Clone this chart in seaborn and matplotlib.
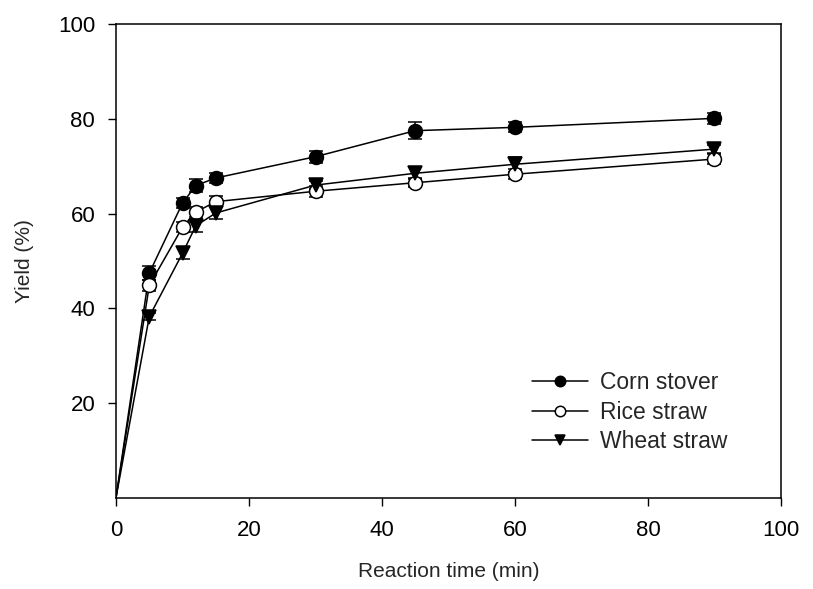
import matplotlib.pyplot as plt
import seaborn as sns
import pandas as pd
from matplotlib.lines import Line2D

# reaction time (min) and yields (%)
time = [0, 5, 10, 12, 15, 30, 45, 60, 90]
corn = [0, 47.4, 62.2, 65.9, 67.5, 72.0, 77.5, 78.2, 80.1]
rice = [0, 44.8, 57.1, 60.3, 62.5, 64.7, 66.5, 68.3, 71.5]
wheat = [0, 38.2, 51.6, 57.4, 60.1, 66.0, 68.5, 70.4, 73.6]
corn_err = [0, 1.5, 1.0, 1.3, 1.1, 1.3, 1.8, 1.05, 1.1]
rice_err = [0, 1.1, 1.0, 1.1, 1.2, 1.2, 1.0, 1.0, 1.1]
wheat_err = [0, 0.8, 1.3, 1.4, 1.2, 0.8, 1.3, 1.6, 0.8]
names = ['Corn stover', 'Rice straw', 'Wheat straw']

sns.set_style('ticks')
plt.rcParams['font.family'] = ['Liberation Sans', 'DejaVu Sans']

df = pd.DataFrame({
    'Reaction time (min)': time * 3,
    'Yield (%)': corn + rice + wheat,
    'Material': [n for n in names for _ in time],
})

fig = plt.figure(figsize=(8.13, 5.89), dpi=100)
ax = fig.add_axes([0.1427, 0.1553, 0.8179, 0.8037])

sns.lineplot(data=df, x='Reaction time (min)', y='Yield (%)', units='Material',
             estimator=None, color='black', linewidth=1.1, ax=ax, legend=False)

styles = [('o', 'black'), ('o', 'white'), ('v', 'black')]
series = [(corn, corn_err), (rice, rice_err), (wheat, wheat_err)]
handles = []
for (m, fc), (vals, errs), name in zip(styles, series, names):
    ax.errorbar(time[1:], vals[1:], yerr=errs[1:], fmt=m, ms=10, mfc=fc,
                mec='black', mew=1.1, ecolor='black', elinewidth=1.1,
                capsize=5, capthick=1.1, zorder=3)
    handles.append(Line2D([], [], color='black', lw=1.1, marker=m, ms=7.5,
                          mfc=fc, mec='black', mew=1.1))

ax.set_xlim(0, 100)
ax.set_ylim(0, 100)
ax.set_xticks([0, 20, 40, 60, 80, 100])
ax.set_yticks([20, 40, 60, 80, 100])
ax.tick_params(labelsize=16, direction='out', length=6, width=1, colors='black')
ax.tick_params(axis='x', pad=10)
ax.tick_params(axis='y', pad=9)
ax.set_xlabel('Reaction time (min)', fontsize=15, labelpad=15)
ax.set_ylabel('Yield (%)', fontsize=15, labelpad=17)
for s in ax.spines.values():
    s.set_linewidth(1.1)
    s.set_color('black')

ax.legend(handles, names, loc='upper left', bbox_to_anchor=(0.595, 0.31),
          frameon=False, fontsize=16.5, handlelength=2.45, handletextpad=0.5,
          labelspacing=0.27)

fig.savefig('out.png', dpi=100)
